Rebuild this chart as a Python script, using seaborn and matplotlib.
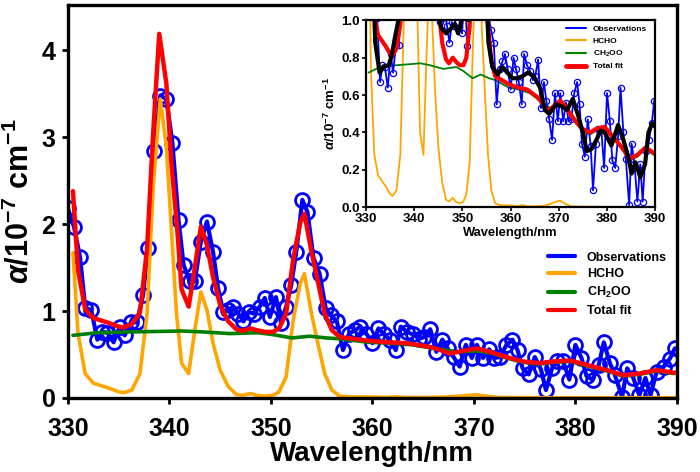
import numpy as np
import matplotlib.pyplot as plt
from matplotlib.lines import Line2D
import seaborn as sns

obs_x = [330.0, 330.6, 331.2, 331.7, 332.3, 332.9, 333.4, 333.9, 334.5, 335.1,
         335.6, 336.2, 336.8, 337.4, 337.9, 338.5, 339.1, 339.7, 340.3, 340.9,
         341.4, 342.0, 342.5, 343.1, 343.7, 344.3, 344.8, 345.3, 345.8, 346.3,
         346.8, 347.3, 347.8, 348.3, 348.9, 349.4, 349.9, 350.5, 351.0, 351.5,
         352.0, 352.5, 353.1, 353.6, 354.2, 354.8, 355.4, 355.9, 356.5, 357.1,
         357.7, 358.3, 358.8, 359.4, 360.0, 360.6, 361.1, 361.7, 362.3, 362.8,
         363.4, 364.0, 364.6, 365.1, 365.7, 366.3, 366.9, 367.4, 368.0, 368.6,
         369.2, 369.8, 370.3, 370.9, 371.5, 372.0, 372.6, 373.2, 373.8, 374.3,
         374.8, 375.4, 376.0, 376.6, 377.1, 377.7, 378.2, 378.8, 379.4, 380.0,
         380.6, 381.1, 381.7, 382.3, 382.8, 383.4, 383.9, 384.6, 385.1, 385.7,
         386.3, 386.9, 387.4, 388.0, 388.7, 389.3, 389.8]
obs_y = [2.18, 1.97, 1.62, 1.04, 1.01, 0.67, 0.76, 0.75, 0.64, 0.82,
         0.72, 0.87, 0.87, 1.18, 1.73, 2.84, 3.48, 3.44, 2.93, 2.05,
         1.53, 1.34, 1.34, 1.80, 2.03, 1.68, 1.26, 0.99, 1.01, 1.05,
         0.97, 0.88, 0.99, 0.97, 1.05, 1.15, 0.93, 1.16, 0.86, 1.05,
         1.30, 1.68, 2.28, 2.14, 1.61, 1.43, 1.03, 0.95, 0.88, 0.55,
         0.74, 0.78, 0.82, 0.74, 0.63, 0.80, 0.74, 0.67, 0.55, 0.82,
         0.76, 0.73, 0.68, 0.70, 0.79, 0.53, 0.67, 0.57, 0.47, 0.36,
         0.61, 0.46, 0.61, 0.46, 0.56, 0.46, 0.47, 0.61, 0.67, 0.55,
         0.34, 0.27, 0.47, 0.33, 0.09, 0.34, 0.42, 0.42, 0.21, 0.61,
         0.46, 0.25, 0.21, 0.38, 0.64, 0.40, 0.26, 0.01, 0.34, 0.23,
         0.03, 0.23, 0.03, 0.30, 0.36, 0.45, 0.57]

# HCHO Anteil
hcho_x = [330.5, 331.0, 331.7, 332.5, 333.3, 334.1, 335.0, 335.5, 336.3, 337.1,
          337.8, 338.4, 339.1, 339.7, 340.2, 340.7, 341.2, 341.9, 342.5, 343.1,
          343.7, 344.3, 345.0, 345.8, 346.6, 347.2, 348.0, 348.6, 349.4, 350.2,
          350.8, 351.5, 352.2, 352.9, 353.3, 354.0, 354.7, 355.3, 356.0, 356.8,
          358.0, 360.0, 361.5, 362.3, 363.5, 365.0, 367.0, 368.5, 369.5, 370.3,
          371.2, 372.5, 375.0, 380.0, 385.0, 390.0]
hcho_y = [1.67, 0.74, 0.28, 0.17, 0.14, 0.11, 0.07, 0.06, 0.09, 0.28,
          0.97, 2.43, 3.44, 2.89, 1.93, 0.97, 0.40, 0.28, 0.78, 1.22,
          1.01, 0.63, 0.32, 0.13, 0.04, 0.03, 0.05, 0.03, 0.02, 0.03,
          0.07, 0.24, 0.90, 1.32, 1.43, 0.97, 0.59, 0.28, 0.09, 0.02,
          0.01, 0.01, 0.005, 0.012, 0.005, 0.005, 0.008, 0.02, 0.03, 0.035,
          0.02, 0.005, 0.003, 0.002, 0.002, 0.002]

# CH2OO Anteil
ch2oo_x = [330.5, 332.9, 336.4, 339.0, 341.2, 343.2, 346.0, 348.7, 350.1, 352.1,
           353.8, 355.5, 356.8, 359.6, 361.6, 364.0, 366.0, 368.3, 370.3, 371.6,
           373.2, 374.8, 376.5, 377.8, 379.5, 381.1, 383.1, 384.7, 386.3, 388.0,
           389.7]
ch2oo_y = [0.72, 0.75, 0.76, 0.765, 0.77, 0.76, 0.74, 0.75, 0.73, 0.69,
           0.71, 0.69, 0.68, 0.64, 0.63, 0.61, 0.57, 0.53, 0.54, 0.52,
           0.46, 0.41, 0.39, 0.41, 0.42, 0.37, 0.31, 0.25, 0.27, 0.31,
           0.28]

# Gesamtfit
fit_x = [330.5, 331.0, 331.7, 332.5, 333.3, 334.1, 335.0, 335.5, 336.3, 337.1,
         337.8, 338.4, 339.0, 339.7, 340.2, 340.8, 341.2, 341.9, 342.5, 343.1,
         343.7, 344.3, 345.0, 345.8, 346.6, 347.2, 348.0, 348.6, 349.4, 350.2,
         350.8, 351.5, 352.2, 352.9, 353.3, 354.0, 354.7, 355.3, 356.0, 356.8,
         357.5, 359.5, 361.5, 363.4, 365.5, 366.5, 367.6, 368.9, 370.3, 371.6,
         373.2, 374.8, 376.5, 377.8, 379.5, 381.1, 383.1, 384.7, 386.3, 388.0,
         389.7, 390.0]
fit_y = [2.38, 1.47, 1.02, 0.92, 0.89, 0.86, 0.82, 0.81, 0.85, 0.98,
         1.72, 3.05, 4.19, 3.62, 2.70, 1.90, 1.25, 1.05, 1.50, 1.97,
         1.76, 1.39, 1.07, 0.88, 0.79, 0.77, 0.80, 0.78, 0.76, 0.76,
         0.80, 0.97, 1.60, 2.02, 2.12, 1.68, 1.30, 0.97, 0.78, 0.70,
         0.69, 0.66, 0.64, 0.63, 0.59, 0.56, 0.51, 0.54, 0.57, 0.53,
         0.47, 0.42, 0.40, 0.42, 0.43, 0.38, 0.32, 0.26, 0.28, 0.32,
         0.29, 0.29]

# geglaettete Messung (nur im Inset)
smooth_x = [330.5, 331.2, 331.9, 332.8, 333.6, 334.7, 335.3, 336.0, 336.7, 337.5,
            338.3, 339.2, 340.1, 341.0, 341.8, 342.7, 343.6, 344.4, 344.9, 345.6,
            346.6, 347.4, 348.4, 349.1, 349.8, 350.5, 351.3, 352.2, 353.2, 354.1,
            354.7, 355.4, 356.2, 357.3, 358.3, 359.3, 360.4, 361.4, 362.4, 363.6,
            364.8, 366.1, 367.1, 368.0, 369.4, 370.6, 371.7, 372.9, 373.9, 375.0,
            375.8, 376.7, 377.8, 378.7, 379.5, 380.9, 382.3, 383.4, 384.4, 385.1,
            385.9, 386.9, 387.9, 388.6, 389.4, 390.0]
smooth_y = [2.0, 1.4, 0.88, 0.72, 0.75, 0.76, 0.81, 0.91, 1.0, 1.4,
            2.6, 3.3, 2.6, 1.7, 1.4, 1.6, 1.85, 1.5, 1.05, 0.96,
            0.93, 0.95, 0.98, 0.93, 1.0, 1.05, 1.0, 1.4, 2.1, 1.8,
            1.3, 0.88, 0.75, 0.71, 0.75, 0.72, 0.69, 0.69, 0.70, 0.72,
            0.70, 0.64, 0.52, 0.50, 0.55, 0.54, 0.52, 0.58, 0.50, 0.40,
            0.30, 0.31, 0.36, 0.41, 0.40, 0.33, 0.44, 0.36, 0.27, 0.18,
            0.24, 0.16, 0.23, 0.40, 0.45, 0.43]

labels = ["Observations", "HCHO", "CH$_2$OO", "Total fit"]
colors = ["blue", "orange", "green", "red"]

sns.set_style("ticks")
plt.rcParams['font.family'] = ['Liberation Sans', 'DejaVu Sans']
plt.rcParams['font.weight'] = 'bold'
plt.rcParams['mathtext.fontset'] = 'custom'
plt.rcParams['mathtext.rm'] = 'Liberation Sans:bold'
plt.rcParams['mathtext.it'] = 'Liberation Sans:bold:italic'
plt.rcParams['mathtext.bf'] = 'Liberation Sans:bold'
for k in ['axes.edgecolor', 'xtick.color', 'ytick.color', 'axes.labelcolor', 'text.color']:
    plt.rcParams[k] = 'black'

ylab = r"$\alpha$/10$^{-7}$ cm$^{-1}$"

fig = plt.figure(figsize=(7, 4.72), dpi=100)

# Hauptplot
ax = fig.add_axes([0.097, 0.157, 0.870, 0.832])
sns.lineplot(x=obs_x, y=obs_y, ax=ax, color="blue", lw=3, marker="o", markersize=10,
             markerfacecolor="none", markeredgecolor="blue", markeredgewidth=2,
             estimator=None, sort=False)
sns.lineplot(x=hcho_x, y=hcho_y, ax=ax, color="orange", lw=2.6, estimator=None, sort=False)
sns.lineplot(x=ch2oo_x, y=ch2oo_y, ax=ax, color="green", lw=2.6, estimator=None, sort=False)
sns.lineplot(x=fit_x, y=fit_y, ax=ax, color="red", lw=3.2, estimator=None, sort=False)

ax.set_xlim(330, 390)
ax.set_ylim(0, 4.52)
ax.set_xticks([330, 340, 350, 360, 370, 380, 390])
ax.set_yticks([0, 1, 2, 3, 4])
ax.tick_params(labelsize=18, width=2, length=4)
ax.tick_params(axis="x", pad=10)
ax.tick_params(axis="y", pad=5)
ax.set_xlabel("Wavelength/nm", fontsize=20, fontweight="bold", labelpad=0)
ax.set_ylabel(ylab, fontsize=22, fontweight="bold")
for s in ax.spines.values():
    s.set_linewidth(2.4)
    s.set_visible(True)

h = [Line2D([], [], color=c, lw=3) for c in colors]
ax.legend(h, labels, loc="upper left", bbox_to_anchor=(0.78, 0.385), borderaxespad=0,
          frameon=False, prop={"size": 9, "weight": "bold"}, labelspacing=0.38,
          handlelength=2.2, handletextpad=0.9)

# Inset
ins = fig.add_axes([0.523, 0.561, 0.413, 0.396])
ins.set_facecolor("white")
sns.lineplot(x=hcho_x, y=hcho_y, ax=ins, color="orange", lw=1.3, estimator=None, sort=False)
sns.lineplot(x=ch2oo_x, y=ch2oo_y, ax=ins, color="green", lw=1.3, estimator=None, sort=False)
sns.lineplot(x=obs_x, y=obs_y, ax=ins, color="blue", lw=1.3, marker="o", markersize=4.5,
             markerfacecolor="none", markeredgecolor="blue", markeredgewidth=0.9,
             estimator=None, sort=False)
sns.lineplot(x=fit_x, y=fit_y, ax=ins, color="red", lw=3, estimator=None, sort=False)
sns.lineplot(x=smooth_x, y=smooth_y, ax=ins, color="black", lw=3, estimator=None, sort=False)

ins.set_xlim(330, 390)
ins.set_ylim(0, 1.0)
ins.set_xticks([330, 340, 350, 360, 370, 380, 390])
ins.set_yticks([0.0, 0.2, 0.4, 0.6, 0.8, 1.0])
ins.set_yticklabels(["0.0", "0.2", "0.4", "0.6", "0.8", "1.0"])
ins.tick_params(labelsize=9.5, width=1.2, length=3, pad=1.5)
ins.set_xlabel("Wavelength/nm", fontsize=9.3, fontweight="bold", labelpad=1)
ins.set_ylabel(ylab, fontsize=9.5, fontweight="bold", labelpad=2)
for s in ins.spines.values():
    s.set_linewidth(1.6)
    s.set_visible(True)

hi = [Line2D([], [], color=c, lw=w) for c, w in zip(colors, [1.5, 1.5, 1.5, 3.5])]
ins.legend(hi, labels, loc="upper left", bbox_to_anchor=(0.68, 0.99), borderaxespad=0,
           frameon=False, prop={"size": 6, "weight": "bold"}, labelspacing=0.45,
           handlelength=2.4, handletextpad=0.8)

fig.savefig("out.png", dpi=100)
